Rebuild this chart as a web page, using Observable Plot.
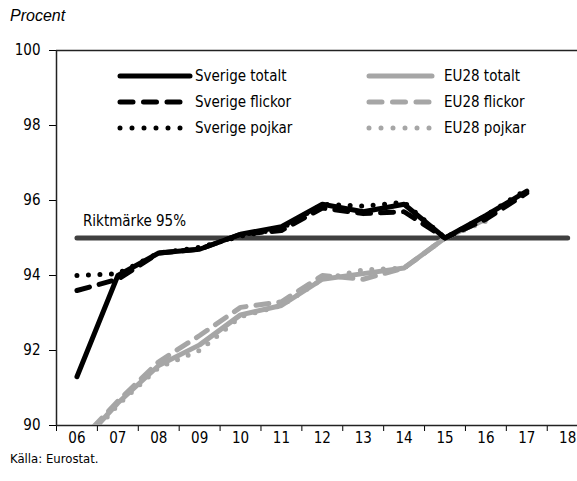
<!DOCTYPE html>
<html><head><meta charset="utf-8">
<script src="https://cdn.jsdelivr.net/npm/d3@7"></script>
<script src="https://cdn.jsdelivr.net/npm/@observablehq/plot@0.6"></script>
<style>
body{margin:0;background:#fff;}
#wrap{position:relative;width:577px;}
.cond, .cond text{font-family:"Liberation Sans Narrow","DejaVu Sans Condensed","Roboto Condensed","Arial Narrow",sans-serif;font-stretch:condensed;}
#title{height:30px;font:italic 16px "Liberation Sans",Arial,sans-serif;padding-left:10px;line-height:32px;box-sizing:border-box;}
#caption{font-size:13px;padding-left:10px;margin-top:-3px;line-height:14px;}
#legend{position:absolute;left:0;top:0;}
</style>
</head><body>
<div id="wrap">
<div id="title">Procent</div>
<div id="chart"></div>
<div id="caption" class="cond">Källa: Eurostat.</div>
</div>
<script>
const years = [2006,2007,2008,2009,2010,2011,2012,2013,2014,2015,2016,2017];
const seTotalt  = [91.3,94.0,94.6,94.7,95.1,95.3,95.9,95.7,95.9,95.0,95.6,96.25];
const seFlickor = [93.6,93.9,94.6,94.7,95.1,95.2,95.8,95.65,95.7,95.0,95.5,96.2];
const sePojkar  = [94.0,94.05,94.6,94.75,95.05,95.25,95.9,95.85,95.95,95.0,95.6,96.3];
const euTotalt  = [89.4,90.6,91.6,92.15,92.95,93.2,93.9,94.05,94.2,95.0,95.5,null];
const euFlickor = [89.5,90.65,91.7,92.4,93.15,93.3,94.0,93.9,94.2,95.0,95.5,null];
const euPojkar  = [89.3,90.55,91.55,92.0,92.9,93.2,93.9,94.15,94.2,95.0,95.45,null];
const riktYears = [2006,2018];
const riktValue = 95;
const riktLabel = "Riktmärke 95%";
const yTicks = [90,92,94,96,98,100];
const xLabels = [2006,2007,2008,2009,2010,2011,2012,2013,2014,2015,2016,2017,2018];
const xBounds = [2005.5,2006.5,2007.5,2008.5,2009.5,2010.5,2011.5,2012.5,2013.5,2014.5,2015.5,2016.5,2017.5];
const seriesNames = ["Sverige totalt","Sverige flickor","Sverige pojkar","EU28 totalt","EU28 flickor","EU28 pojkar"];

const BLACK = "#000", GRAY = "#a6a6a6", RIKT = "#404040";
const styles = {
  "Sverige totalt": {stroke:BLACK, dash:null},
  "Sverige flickor": {stroke:BLACK, dash:"13,10"},
  "Sverige pojkar": {stroke:BLACK, dash:"0,11.5"},
  "EU28 totalt": {stroke:GRAY, dash:null},
  "EU28 flickor": {stroke:GRAY, dash:"13,10"},
  "EU28 pojkar": {stroke:GRAY, dash:"0,11.5"}
};
const seriesValues = [seTotalt,seFlickor,sePojkar,euTotalt,euFlickor,euPojkar];
const table = seriesNames.map((n,i)=>years.map((yr,j)=>({year:yr, value:seriesValues[i][j], series:n})).filter(d=>d.value!=null));
const rikt = riktYears.map(yr=>({year:yr, value:riktValue}));

function lineMark(data, name){
  const s = styles[name];
  return Plot.line(data, {x:"year", y:"value", stroke:s.stroke, strokeWidth:5, strokeDasharray:s.dash, strokeLinecap:"round", strokeLinejoin:"round", clip:true});
}
const order = [5,4,3,2,1,0];

const plot = Plot.plot({
  width:577, height:425,
  marginLeft:56, marginRight:0, marginTop:20, marginBottom:30,
  style:{fontSize:"15px", color:"#000", background:"#fff"},
  className:"cond",
  x:{type:"linear", domain:[2005.5,2018.24]},
  y:{domain:[90,100]},
  marks:[
    Plot.axisY({ticks:yTicks, tickSize:7, tickPadding:9, label:null, fontSize:15}),
    Plot.axisX({ticks:xBounds, tickSize:6, tickFormat:()=>"", label:null}),
    Plot.axisX({ticks:xLabels, tickSize:0, tickPadding:7, tickFormat:d=>String(d%100).padStart(2,"0"), label:null, fontSize:15}),
    Plot.ruleY([100], {stroke:"#222", strokeWidth:1.5}),
    Plot.ruleY([90], {stroke:"#222", strokeWidth:1.5}),
    Plot.ruleX([2005.5], {stroke:"#222", strokeWidth:1.5}),
    Plot.line(rikt, {x:"year", y:"value", stroke:RIKT, strokeWidth:5, strokeLinecap:"round"}),
    Plot.text([rikt[0]], {x:"year", y:"value", text:()=>riktLabel, textAnchor:"start", dx:6, dy:-17, fontSize:15, fill:"#000"}),
    ...order.map(i=>lineMark(table[i], seriesNames[i]))
  ]
});
document.getElementById("chart").appendChild(plot);

const leg = d3.select("#wrap").append("svg").attr("id","legend").attr("class","cond")
  .attr("width",577).attr("height",160);
const cols = [{x1:120,x2:190,tx:195},{x1:369,x2:432,tx:444}];
const rowsY = [76,102,128];
seriesNames.forEach((n,i)=>{
  const c = cols[Math.floor(i/3)], y = rowsY[i%3], s = styles[n];
  leg.append("line").attr("x1",c.x1).attr("x2",c.x2).attr("y1",y).attr("y2",y)
    .attr("stroke",s.stroke).attr("stroke-width",5).attr("stroke-linecap","round")
    .attr("stroke-dasharray",s.dash ? (s.dash.startsWith("0")?"0,12":"13,10.5") : null);
  leg.append("text").attr("x",c.tx).attr("y",y).attr("dy","0.35em").attr("font-size",15).text(n);
});
</script>
</body></html>
